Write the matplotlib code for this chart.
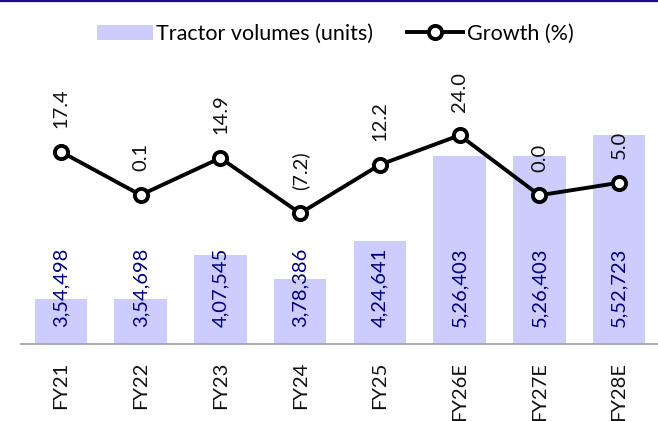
import matplotlib
matplotlib.use("Agg")
import matplotlib.pyplot as plt
from matplotlib.lines import Line2D
from matplotlib.patches import Patch

categories = ["FY21", "FY22", "FY23", "FY24", "FY25", "FY26E", "FY27E", "FY28E"]
volumes = [354498, 354698, 407545, 378386, 424641, 526403, 526403, 552723]
volume_labels = ["3,54,498", "3,54,698", "4,07,545", "3,78,386", "4,24,641",
                 "5,26,403", "5,26,403", "5,52,723"]
growth = [17.4, 0.1, 14.9, -7.2, 12.2, 24.0, 0.0, 5.0]
growth_labels = ["17.4", "0.1", "14.9", "(7.2)", "12.2", "24.0", "0.0", "5.0"]

plt.rcParams['font.family'] = ['Lato', 'DejaVu Sans']

W, H = 658, 421
fig = plt.figure(figsize=(W / 100, H / 100), dpi=100)
left, right, top, bottom = 21, 659, 54, 344
ax = fig.add_axes([left / W, 1 - bottom / H, (right - left) / W, (bottom - top) / H])

x = list(range(len(categories)))
ax.bar(x, volumes, width=0.66, color="#CCCCFF", zorder=1)
ax.set_ylim(300000, 650000)
ax.set_xlim(-0.5, len(categories) - 0.5)

for xi, lab in zip(x, volume_labels):
    ax.annotate(lab, xy=(xi, 300000), xytext=(0, 12), textcoords="offset points",
                rotation=90, ha="center", va="bottom", fontsize=14.5, color="#000080")

for s in ["top", "right", "left"]:
    ax.spines[s].set_visible(False)
ax.spines["bottom"].set_color("#A6A6A6")
ax.spines["bottom"].set_linewidth(1.3)
ax.set_yticks([])
ax.set_xticks(x)
ax.set_xticklabels(categories, rotation=90, fontsize=14.5, color="#111111")
ax.tick_params(axis="x", length=0, pad=13)

ax2 = ax.twinx()
ax2.plot(x, growth, color="black", lw=2.8, marker="o", ms=9.5, mew=2.8,
         mfc="white", mec="black", zorder=3)
ax2.set_ylim(-59.5, 56.5)
ax2.set_yticks([])
for s in ["top", "right", "left", "bottom"]:
    ax2.spines[s].set_visible(False)
for xi, g, lab in zip(x, growth, growth_labels):
    ax2.annotate(lab, xy=(xi, g), xytext=(0, 17), textcoords="offset points",
                 rotation=90, ha="center", va="bottom", fontsize=14.5, color="#111111")

handles = [Patch(facecolor="#CCCCFF", edgecolor="none"),
           Line2D([], [], color="black", lw=2.8, marker="o", ms=9.5, mew=2.8,
                  mfc="white", mec="black")]
fig.legend(handles, ["Tractor volumes (units)", "Growth (%)"], loc="center",
           bbox_to_anchor=(335 / W, 1 - 34 / H), ncol=2, frameon=False,
           fontsize=15.5, handlelength=2.6, handleheight=0.7, handletextpad=0.15,
           columnspacing=1.6)

fig.add_artist(Line2D([0, 1], [1 - 1 / H, 1 - 1 / H], color="#1A0A8C", lw=1.6,
                      transform=fig.transFigure))

fig.savefig("out.png", dpi=100)
